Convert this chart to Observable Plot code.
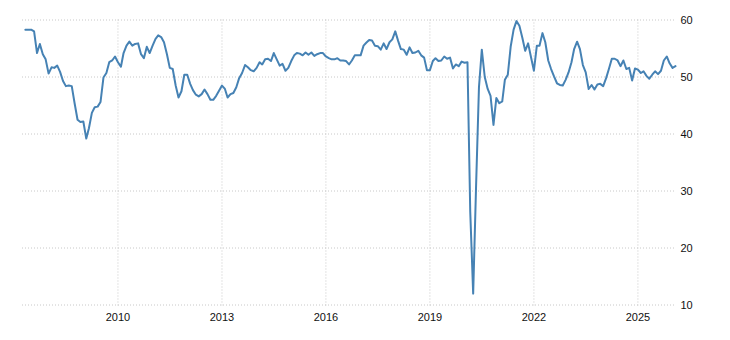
<!DOCTYPE html>
<html>
<head>
<meta charset="utf-8">
<script src="https://cdn.jsdelivr.net/npm/d3@7"></script>
<script src="https://cdn.jsdelivr.net/npm/@observablehq/plot@0.6"></script>
<style>
  html, body { margin: 0; padding: 0; background: #fff; }
  #chart svg { display: block; }
</style>
</head>
<body>
<div id="chart"></div>
<script>
// Monthly values, first month May 2007, last month Feb 2026
const firstMonth = "2007-05-01";
const values = [
  // 2007 (May-Dec)
  58.3, 58.3, 58.3, 58.0, 54.2, 55.8, 54.0, 53.1,
  // 2008
  50.6, 51.7, 51.6, 52.0, 50.9, 49.3, 48.4, 48.5, 48.4, 45.4, 42.5, 42.1,
  // 2009
  42.2, 39.2, 41.0, 43.7, 44.7, 44.8, 45.6, 49.9, 50.7, 52.6, 52.9, 53.6,
  // 2010
  52.6, 51.8, 54.2, 55.5, 56.2, 55.5, 55.8, 55.9, 54.0, 53.3, 55.3, 54.2,
  // 2011
  55.5, 56.7, 57.3, 57.0, 56.1, 54.0, 51.6, 51.4, 48.5, 46.4, 47.5, 50.4,
  // 2012
  50.4, 48.8, 47.7, 46.9, 46.6, 47.0, 47.8, 47.0, 46.0, 46.0, 46.7, 47.6,
  // 2013
  48.5, 47.9, 46.4, 47.0, 47.2, 48.2, 49.8, 50.7, 52.1, 51.7, 51.2, 51.0,
  // 2014
  51.6, 52.6, 52.2, 53.1, 53.2, 52.8, 54.2, 53.1, 52.0, 52.3, 51.1, 51.6,
  // 2015
  52.8, 53.8, 54.2, 54.1, 53.8, 54.3, 53.9, 54.3, 53.7, 54.0, 54.2, 54.2,
  // 2016
  53.6, 53.3, 53.1, 53.1, 53.3, 52.9, 52.9, 52.8, 52.2, 52.9, 53.8, 53.8,
  // 2017
  53.8, 55.5, 56.0, 56.5, 56.4, 55.5, 55.4, 54.8, 55.9, 54.9, 56.1, 56.6,
  // 2018
  58.0, 56.3, 54.9, 54.8, 53.9, 55.2, 54.2, 54.3, 54.6, 53.8, 53.4, 51.2,
  // 2019
  51.2, 52.8, 53.3, 52.8, 52.9, 53.6, 53.2, 53.4, 51.5, 52.2, 51.9, 52.7,
  // 2020
  52.5, 52.6, 26.4, 12.0, 30.5, 48.2, 54.8, 50.0, 47.9, 46.7, 41.6, 46.3,
  // 2021
  45.4, 45.7, 49.5, 50.4, 55.3, 58.3, 59.8, 59.0, 56.9, 54.6, 55.9, 53.5,
  // 2022
  51.1, 55.5, 55.5, 57.7, 56.1, 52.9, 51.4, 50.1, 48.9, 48.6, 48.5, 49.5,
  // 2023
  50.8, 52.6, 54.9, 56.2, 54.9, 52.1, 50.8, 47.9, 48.6, 47.8, 48.7, 48.8,
  // 2024
  48.4, 49.8, 51.4, 53.2, 53.2, 52.9, 51.9, 52.9, 51.4, 51.6, 49.4, 51.5,
  // 2025
  51.3, 50.7, 51.0, 50.2, 49.7, 50.4, 51.0, 50.5, 51.1, 52.9, 53.6, 52.4,
  // 2026 (Jan-Feb)
  51.6, 51.9
];
const xDomain = ["2007-04-01", "2026-02-01"];
const xTickYears = [2010, 2013, 2016, 2019, 2022, 2025];
const yTicks = [10, 20, 30, 40, 50, 60];

const start = new Date(firstMonth + "T00:00:00Z");
const data = values.map((v, i) => ({
  date: d3.utcMonth.offset(start, i),
  value: v
}));
const xTicks = xTickYears.map(y => new Date(Date.UTC(y, 0, 1)));

const chart = Plot.plot({
  width: 730,
  height: 340,
  marginLeft: 22,
  marginRight: 55,
  marginTop: 19.5,
  marginBottom: 35.5,
  style: {
    fontFamily: "'Liberation Sans', Arial, sans-serif",
    fontSize: "11px",
    color: "#111",
    background: "#fff"
  },
  x: {
    type: "utc",
    domain: xDomain.map(d => new Date(d + "T00:00:00Z")),
    ticks: xTicks,
    tickFormat: d3.utcFormat("%Y"),
    tickSize: 0,
    tickPadding: 8,
    label: null
  },
  y: {
    domain: [10, 60],
    ticks: yTicks,
    axis: "right",
    tickSize: 0,
    tickPadding: 5,
    label: null
  },
  marks: [
    Plot.ruleY(yTicks, {stroke: "#c8c8c8", strokeDasharray: "1,2", strokeWidth: 1}),
    Plot.ruleX(xTicks, {stroke: "#c8c8c8", strokeDasharray: "1,2", strokeWidth: 1, insetBottom: -2}),
    Plot.line(data, {x: "date", y: "value", stroke: "#4682b4", strokeWidth: 2, strokeLinejoin: "round"})
  ]
});
document.getElementById("chart").appendChild(chart);
</script>
</body>
</html>
